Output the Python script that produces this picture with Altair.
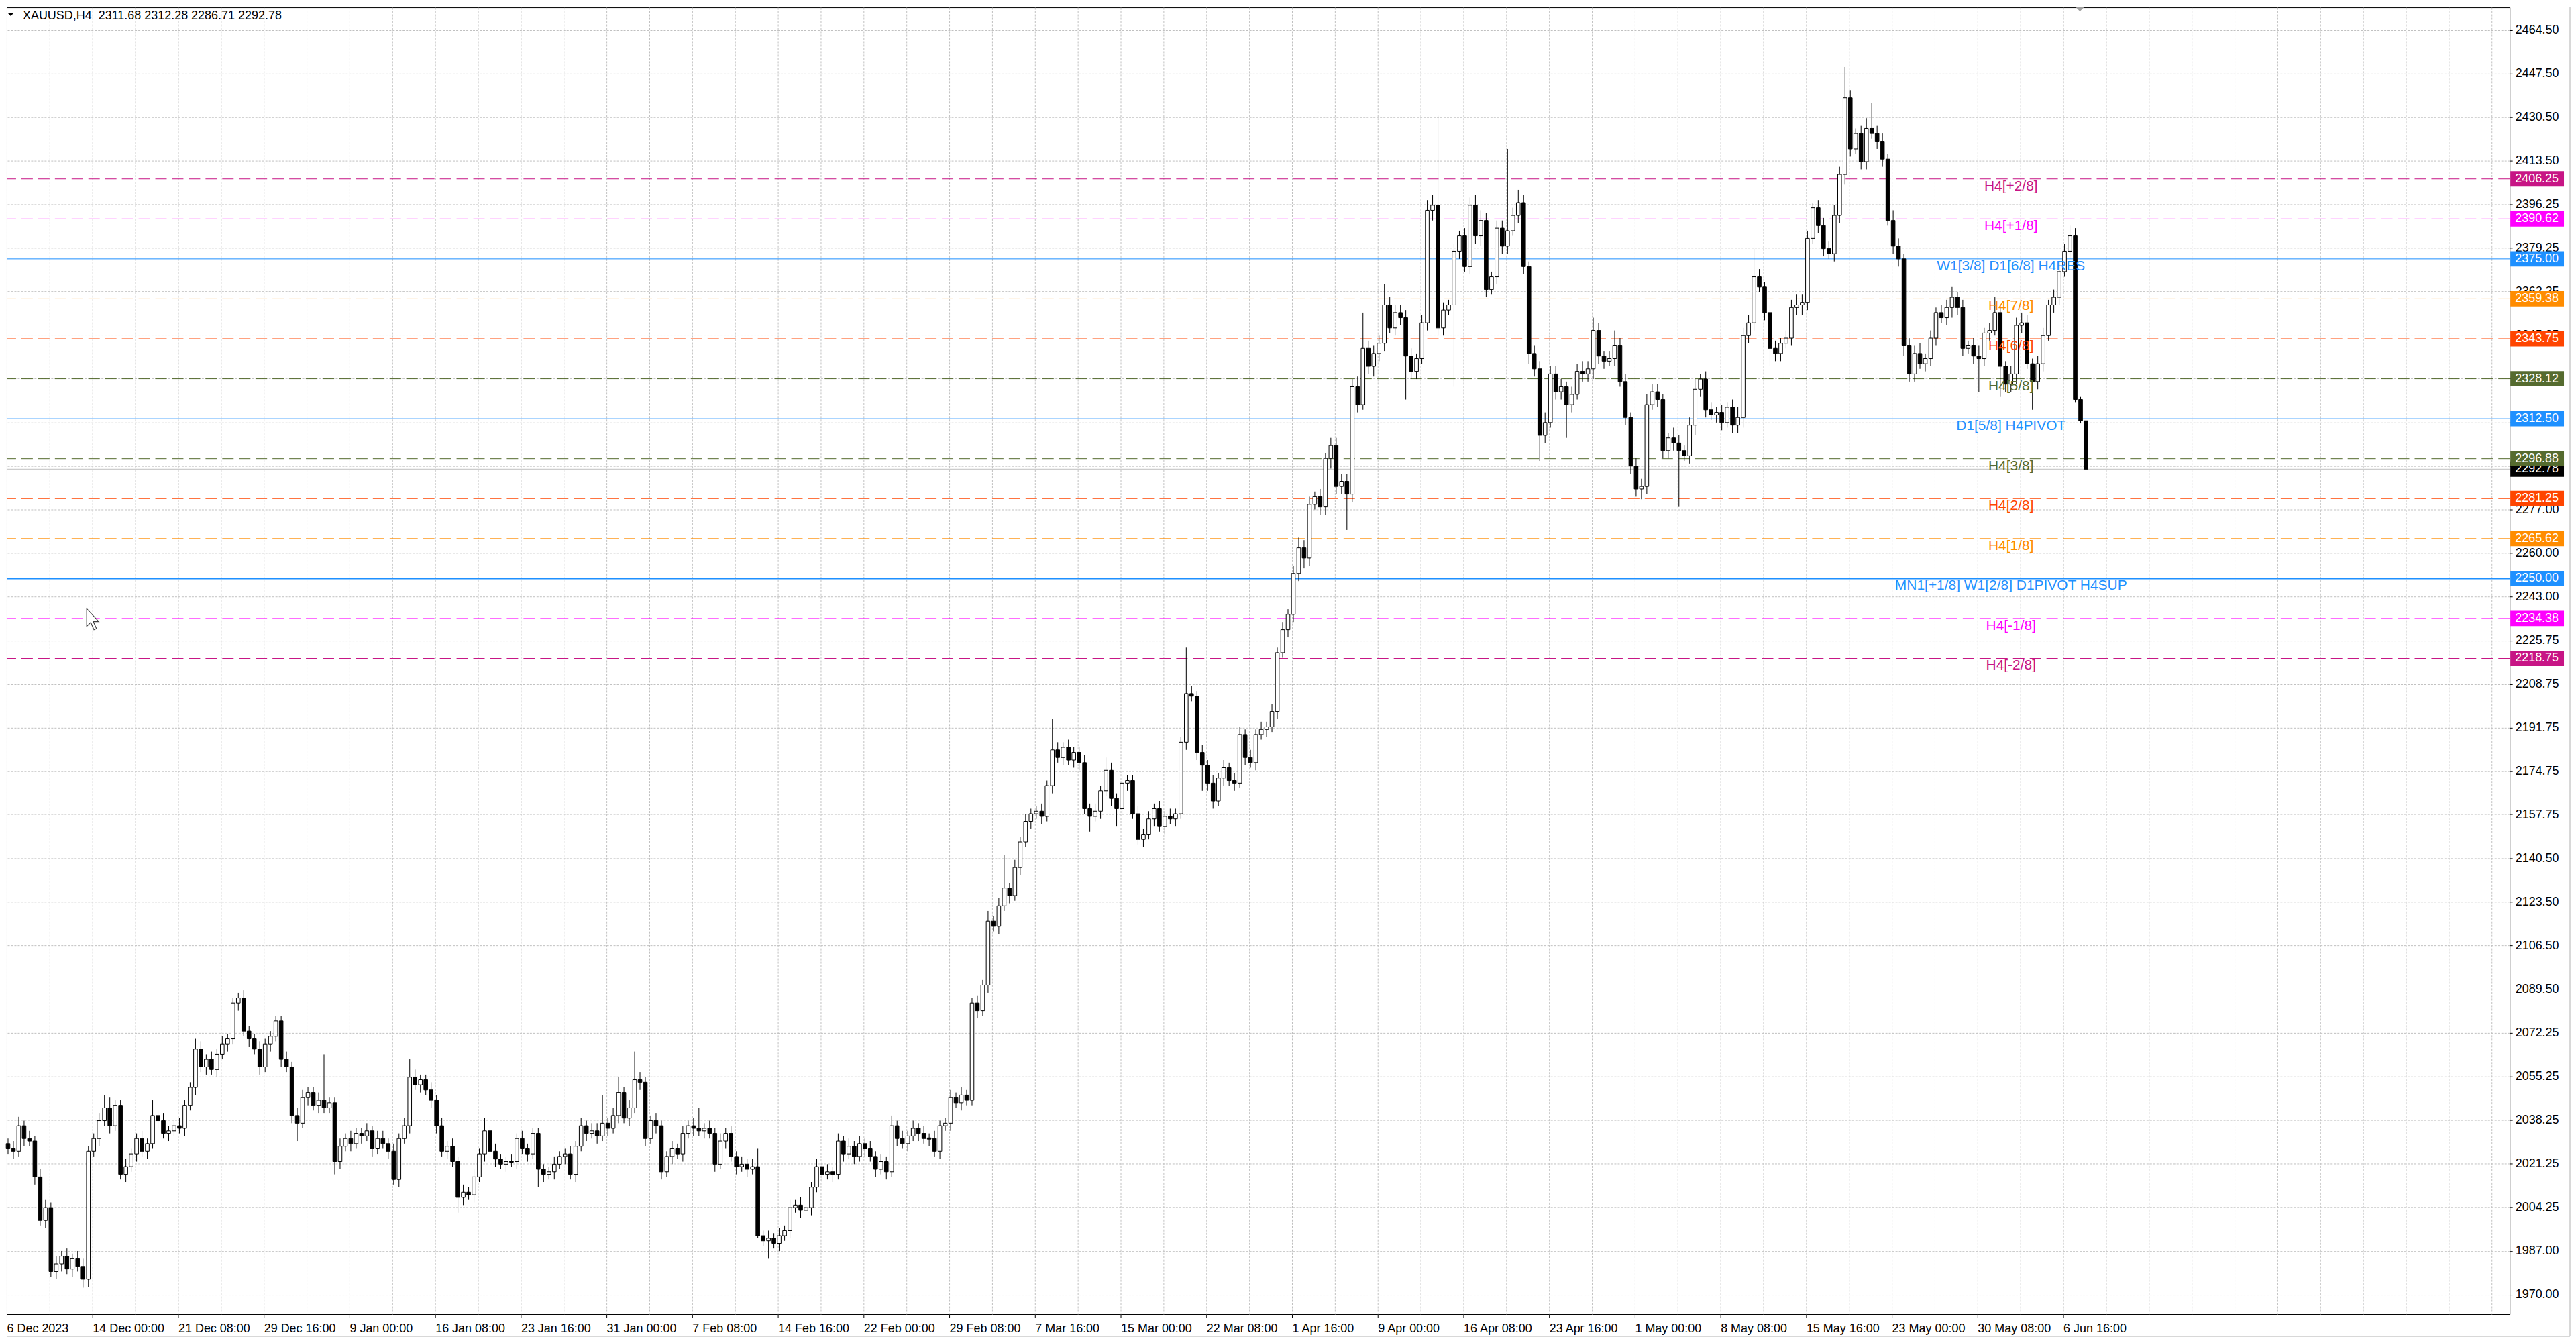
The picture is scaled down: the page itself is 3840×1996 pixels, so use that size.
import altair as alt
import pandas as pd

TITLE_TEXT = "XAUUSD,H4\u00a0 2311.68 2312.28 2286.71 2292.78"

# ---- candles: each candle = 2 H4 bars; open = previous close ----
first_open = 2029.0
closes = [
    2027, 2026, 2036, 2031, 2030, 2016, 1999, 2004, 1979, 1982,
    1985, 1980, 1984, 1981, 1976, 2026, 2031, 2038, 2043, 2036,
    2044, 2017, 2020, 2025, 2031, 2026, 2029, 2040, 2038, 2033,
    2034, 2036, 2035, 2044, 2051, 2066, 2059, 2062, 2058, 2064,
    2068, 2070, 2084, 2086, 2073, 2070, 2066, 2059, 2068, 2071,
    2077, 2062, 2059, 2040, 2037, 2047, 2049, 2044, 2046, 2043,
    2045, 2022, 2028, 2031, 2029, 2033, 2032, 2034, 2027, 2031,
    2029, 2026, 2015, 2031, 2036, 2055, 2052, 2054, 2050, 2046,
    2036, 2026, 2028, 2022, 2008, 2010, 2009, 2016, 2025, 2034,
    2026, 2023, 2021, 2022, 2022, 2031, 2027, 2025, 2033, 2019,
    2017, 2018, 2021, 2024, 2025, 2017, 2028, 2036, 2033, 2034,
    2032, 2037, 2035, 2040, 2049, 2039, 2043, 2054, 2053, 2031,
    2038, 2036, 2018, 2024, 2027, 2025, 2033, 2036, 2035, 2034,
    2035, 2033, 2021, 2030, 2033, 2024, 2020, 2021, 2019, 2020,
    1993, 1991, 1992, 1990, 1993, 1995, 2004, 2005, 2003, 2004,
    2012, 2020, 2017, 2018, 2017, 2030, 2025, 2028, 2024, 2029,
    2027, 2024, 2019, 2022, 2018, 2036, 2031, 2029, 2032, 2035,
    2033, 2031, 2031, 2026, 2036, 2037, 2047, 2045, 2048, 2046,
    2084, 2081, 2091, 2116, 2114, 2122, 2129, 2126, 2137, 2147,
    2155, 2158, 2159, 2157, 2169, 2183, 2180, 2184, 2179, 2182,
    2178, 2160, 2157, 2159, 2167, 2175, 2164, 2160, 2170, 2171,
    2158, 2148, 2150, 2156, 2160, 2153, 2157, 2156, 2158, 2186,
    2205, 2204, 2182, 2177, 2170, 2163, 2172, 2176, 2171, 2170,
    2189, 2180, 2178, 2189, 2191, 2192, 2198, 2221, 2230, 2236,
    2252, 2262, 2258, 2279, 2282, 2278, 2297, 2302, 2286, 2288,
    2283, 2325, 2318, 2340, 2333, 2338, 2342, 2357, 2348, 2354,
    2352, 2337, 2331, 2336, 2350, 2394, 2396, 2348, 2355, 2357,
    2378, 2384, 2372, 2396, 2384, 2390, 2363, 2368, 2387, 2380,
    2386, 2392, 2397, 2372, 2338, 2332, 2306, 2311, 2330, 2323,
    2325, 2318, 2322, 2331, 2330, 2332, 2347, 2337, 2335, 2336,
    2341, 2327, 2313, 2294, 2285, 2286, 2318, 2323, 2320, 2300,
    2305, 2303, 2300, 2298, 2310, 2324, 2328, 2316, 2314, 2315,
    2311, 2317, 2310, 2313, 2345, 2350, 2368, 2364, 2354, 2340,
    2338, 2342, 2344, 2356, 2357, 2358, 2383, 2395, 2388, 2379,
    2377, 2392, 2408, 2438, 2418, 2424, 2413, 2426, 2424, 2421,
    2414, 2390, 2380, 2375, 2341, 2330, 2338, 2334, 2336, 2344,
    2354, 2352, 2356, 2360, 2356, 2340, 2341, 2337, 2336, 2346,
    2347, 2354, 2333, 2326, 2330, 2349, 2350, 2334, 2327, 2334,
    2345, 2357, 2360, 2370, 2378, 2384, 2320, 2311.68, 2292.78,
]
upper_wick = [
    2, 3, 3.5, 2, 3, 2, 3, 3, 2, 3,
    2, 3, 2, 3, 3, 2, 2, 3, 5, 4,
    2, 2, 3, 2, 2, 3, 2, 6, 2, 3,
    2, 2, 3, 2, 2, 4, 3, 2, 3, 2,
    3, 2, 2, 2, 3, 2, 2, 3, 2, 2,
    2, 2, 3, 2, 3, 3, 2, 2, 3, 18,
    2, 2, 3, 2, 3, 2, 2, 3, 2, 3,
    3, 2, 3, 2, 3, 7, 3, 2, 2, 3,
    2, 3, 2, 3, 2, 3, 2, 3, 2, 5,
    2, 3, 2, 2, 3, 2, 3, 2, 2, 2,
    2, 2, 3, 2, 2, 3, 2, 3, 2, 3,
    3, 11, 2, 3, 6, 2, 3, 11, 3, 2,
    2, 3, 2, 2, 3, 2, 3, 2, 3, 8,
    2, 3, 2, 3, 2, 3, 2, 3, 2, 3,
    7, 2, 3, 2, 3, 2, 3, 2, 3, 2,
    2, 3, 2, 3, 2, 3, 2, 3, 2, 3,
    2, 3, 2, 3, 2, 4, 2, 3, 2, 3,
    2, 3, 2, 3, 2, 2, 3, 2, 3, 2,
    2, 3, 2, 4, 2, 3, 13, 2, 3, 2,
    3, 2, 2, 3, 2, 12, 3, 2, 3, 2,
    2, 3, 2, 3, 2, 5, 3, 2, 3, 2,
    2, 3, 2, 3, 2, 3, 2, 3, 2, 2,
    18, 3, 2, 3, 2, 3, 2, 3, 2, 3,
    3, 2, 3, 2, 3, 2, 3, 2, 3, 2,
    3, 4, 3, 3, 2, 3, 2, 3, 3, 3,
    3, 3, 4, 14, 3, 3, 3, 8, 3, 3,
    3, 3, 3, 2, 3, 4, 4, 35, 3, 2,
    3, 2, 3, 3, 4, 4, 3, 2, 3, 3,
    32, 3, 5, 3, 2, 3, 3, 4, 3, 3,
    3, 2, 3, 3, 4, 3, 5, 3, 2, 3,
    6, 3, 3, 2, 3, 3, 4, 3, 3, 2,
    2, 4, 3, 2, 3, 4, 2, 3, 3, 2,
    3, 2, 3, 4, 3, 3, 11, 3, 2, 3,
    3, 2, 3, 3, 4, 3, 3, 2, 3, 3,
    3, 4, 3, 12, 3, 2, 3, 4, 10, 3,
    3, 2, 4, 3, 2, 3, 3, 4, 2, 3,
    2, 3, 3, 4, 2, 3, 2, 3, 4, 2,
    3, 6, 3, 2, 3, 3, 4, 3, 2, 3,
    3, 2, 3, 4, 3, 4, 3, 1, 0.6,
]
lower_wick = [
    2, 3, 2, 3, 2, 3, 2, 3, 2, 3,
    3, 2, 3, 2, 3.3, 3, 2, 3, 2, 3,
    2, 2, 3, 2, 3, 2, 3, 2, 3, 2,
    3, 2, 2, 3, 2, 3, 2, 3, 2, 3,
    2, 3, 2, 3, 2, 3, 2, 3, 2, 3,
    2, 3, 2, 3, 7, 2, 3, 2, 3, 2,
    2, 5, 3, 2, 3, 2, 3, 2, 3, 2,
    2, 3, 2, 3, 2, 3, 2, 3, 2, 3,
    3, 2, 3, 2, 6, 3, 2, 3, 2, 3,
    2, 3, 2, 3, 2, 3, 2, 3, 2, 7,
    3, 2, 3, 2, 3, 2, 3, 2, 3, 2,
    3, 2, 3, 2, 3, 2, 3, 2, 3, 3,
    2, 3, 3, 2, 3, 2, 3, 2, 3, 2,
    3, 2, 3, 2, 3, 2, 3, 2, 3, 2,
    1, 2, 7, 2, 3, 2, 3, 2, 3, 2,
    3, 2, 3, 2, 3, 2, 3, 2, 3, 2,
    3, 2, 3, 2, 3, 2, 3, 2, 3, 2,
    3, 2, 3, 2, 3, 2, 3, 2, 3, 2,
    2, 3, 2, 3, 2, 3, 2, 3, 2, 3,
    2, 3, 2, 3, 2, 3, 2, 3, 2, 3,
    3, 2, 6, 2, 3, 2, 3, 7, 2, 3,
    2, 2, 3, 2, 3, 2, 3, 2, 3, 2,
    3, 2, 3, 10, 3, 3, 2, 3, 2, 3,
    2, 3, 2, 3, 2, 3, 2, 3, 2, 3,
    3, 3, 4, 3, 2, 3, 3, 4, 3, 3,
    14, 3, 3, 2, 3, 4, 3, 3, 2, 3,
    3, 17, 3, 3, 2, 3, 4, 3, 3, 2,
    32, 3, 2, 3, 3, 4, 3, 2, 3, 3,
    3, 2, 3, 3, 4, 3, 10, 3, 2, 3,
    3, 13, 3, 2, 3, 3, 4, 3, 3, 2,
    3, 2, 3, 3, 3, 4, 3, 2, 3, 3,
    3, 3, 22, 2, 3, 4, 3, 3, 2, 3,
    3, 2, 3, 3, 4, 3, 3, 2, 3, 7,
    3, 3, 2, 3, 3, 4, 3, 2, 3, 3,
    2, 3, 3, 4, 3, 2, 3, 3, 2, 3,
    3, 2, 3, 3, 4, 3, 3, 2, 3, 3,
    3, 2, 3, 4, 3, 3, 2, 3, 13, 3,
    3, 2, 12, 3, 3, 4, 3, 2, 11, 3,
    3, 2, 3, 3, 2, 3, 1, 1, 6.07,
]

time_labels = ["6 Dec 2023", "14 Dec 00:00", "21 Dec 08:00", "29 Dec 16:00", "9 Jan 00:00",
               "16 Jan 08:00", "23 Jan 16:00", "31 Jan 00:00", "7 Feb 08:00", "14 Feb 16:00",
               "22 Feb 00:00", "29 Feb 08:00", "7 Mar 16:00", "15 Mar 00:00", "22 Mar 08:00",
               "1 Apr 16:00", "9 Apr 00:00", "16 Apr 08:00", "23 Apr 16:00", "1 May 00:00",
               "8 May 08:00", "15 May 16:00", "23 May 00:00", "30 May 08:00", "6 Jun 16:00"]
price_ticks = [2464.50, 2447.50, 2430.50, 2413.50, 2396.25, 2379.25, 2362.25, 2345.25, 2328.25,
               2311.00, 2294.00, 2277.00, 2260.00, 2243.00, 2225.75, 2208.75, 2191.75, 2174.75,
               2157.75, 2140.50, 2123.50, 2106.50, 2089.50, 2072.25, 2055.25, 2038.25, 2021.25,
               2004.25, 1987.00, 1970.00]

level_prices = [2406.25, 2390.62, 2375.00, 2359.38, 2343.75, 2328.12, 2312.50, 2296.88,
                2281.25, 2265.62, 2250.00, 2234.38, 2218.75]
level_names = ["H4[+2/8]", "H4[+1/8]", "W1[3/8] D1[6/8] H4RES", "H4[7/8]", "H4[6/8]", "H4[5/8]",
               "D1[5/8] H4PIVOT", "H4[3/8]", "H4[2/8]", "H4[1/8]",
               "MN1[+1/8] W1[2/8] D1PIVOT H4SUP", "H4[-1/8]", "H4[-2/8]"]
level_colors = ["#C71585", "#FF00FF", "#1E90FF", "#FF8C00", "#FF4500", "#556B2F", "#1E90FF",
                "#556B2F", "#FF4500", "#FF8C00", "#1E90FF", "#FF00FF", "#C71585"]
level_solid = [False, False, True, False, False, False, True, False, False, False, True, False, False]
level_width = [1, 1, 1, 1, 1, 1, 1, 1, 1, 1, 2, 1, 1]
last_price = 2292.78

W, H = 3739, 1952
FONT = "Liberation Sans"

# ---- build tables ----
rows = []
prev = first_open
for j, c in enumerate(closes):
    o = prev
    hi = max(o, c) + upper_wick[j]
    lo = min(o, c) - lower_wick[j]
    top, bot = max(o, c), min(o, c)
    if top - bot < 0.4:
        top, bot = o + 0.25, o - 0.25
    t = 2 * j + 0.5
    rows.append(dict(t=t, t0=t - 0.7, t1=t + 0.7, high=hi, low=lo, btop=top, bbot=bot,
                     fill="white" if c > o else "black"))
    prev = c
cdf = pd.DataFrame(rows)

ldf = pd.DataFrame(dict(price=level_prices, name=level_names, color=level_colors,
                        solid=level_solid, lw=level_width))
ldf["txt"] = ldf["price"].map(lambda v: f"{v:.2f}")
ldf["top"] = ldf["price"] + 3.0
ldf["bot"] = ldf["price"] - 3.0
cur = pd.DataFrame(dict(price=[last_price], txt=[f"{last_price:.2f}"],
                        top=[last_price + 3.0], bot=[last_price - 3.0]))

xscale = alt.Scale(domain=[0, W / 4], nice=False, zero=False)
yscale = alt.Scale(domain=[1962.33, 2473.32], nice=False, zero=False)

arr = "[" + ",".join(f"'{s}'" for s in time_labels) + "]"
cond = "datum.value % 32 == 0 && datum.value <= 768"
xaxis = alt.Axis(values=list(range(0, 935, 16)), labelExpr=f"{cond} ? {arr}[datum.value/32] : ''",
                 grid=True, gridColor="#C0C0C0", gridDash=[3, 2], gridWidth=1, domain=False,
                 tickColor={"condition": {"test": cond, "value": "black"}, "value": "transparent"},
                 tickSize=5, labelAlign="left", labelBaseline="top", labelPadding=8,
                 labelFont=FONT, labelFontSize=18, labelColor="black", title=None,
                 labelOverlap=False, labelFlush=False)
yaxis = alt.Axis(orient="right", values=price_ticks, format=".2f", grid=True, gridColor="#C0C0C0",
                 gridDash=[3, 2], gridWidth=1, domain=False, tickColor="black", tickSize=4,
                 labelPadding=4, labelFont=FONT, labelFontSize=18, labelColor="black",
                 labelBaseline="middle", title=None, labelOverlap=False, labelFlush=False)

Y = lambda f: alt.Y(f, scale=yscale, axis=yaxis)

dashed = alt.Chart(ldf[~ldf.solid]).mark_rule(strokeDash=[17, 8], strokeWidth=1).encode(
    y=Y("price:Q"), color=alt.Color("color:N", scale=None))
solid = alt.Chart(ldf[ldf.solid]).mark_rule().encode(
    y=Y("price:Q"), color=alt.Color("color:N", scale=None),
    strokeWidth=alt.StrokeWidth("lw:Q", scale=None))
curline = alt.Chart(cur).mark_rule(color="#C0C0C0", strokeWidth=1).encode(y=Y("price:Q"))

wick = alt.Chart(cdf).mark_rule(color="black", strokeWidth=1).encode(
    x=alt.X("t:Q", scale=xscale, axis=xaxis), y=Y("low:Q"), y2="high:Q")
body = alt.Chart(cdf).mark_rect(stroke="black", strokeWidth=1).encode(
    x=alt.X("t0:Q", scale=xscale, axis=xaxis), x2="t1:Q", y=Y("btop:Q"), y2="bbot:Q",
    fill=alt.Color("fill:N", scale=None))

ltext = alt.Chart(ldf).mark_text(align="center", baseline="top", dy=0, font=FONT, fontSize=21).encode(
    x=alt.value(2994), y=Y("price:Q"), text="name:N", color=alt.Color("color:N", scale=None))

cur_rect = alt.Chart(cur).mark_rect(color="black").encode(
    x=alt.value(W + 1), x2=alt.value(W + 81), y=Y("top:Q"), y2="bot:Q")
cur_txt = alt.Chart(cur).mark_text(align="left", baseline="middle", font=FONT, fontSize=18,
                                   color="white").encode(x=alt.value(W + 8), y=Y("price:Q"), text="txt:N")
tag_rect = alt.Chart(ldf).mark_rect().encode(
    x=alt.value(W + 1), x2=alt.value(W + 81), y=Y("top:Q"), y2="bot:Q",
    fill=alt.Color("color:N", scale=None))
tag_txt = alt.Chart(ldf).mark_text(align="left", baseline="middle", font=FONT, fontSize=18,
                                   color="white").encode(x=alt.value(W + 8), y=Y("price:Q"), text="txt:N")

one = pd.DataFrame({"k": [0]})
title = alt.Chart(one).mark_text(align="left", baseline="alphabetic", font=FONT, fontSize=18,
                                 color="black").encode(x=alt.value(24), y=alt.value(18),
                                                       text=alt.value(TITLE_TEXT))
tri = alt.Chart(one).mark_point(shape="M-1,-0.5L1,-0.5L0,0.5Z", filled=True, color="black",
                                size=100, opacity=1).encode(x=alt.value(6), y=alt.value(10.5))
shift = alt.Chart(one).mark_point(shape="M-1,-0.5L1,-0.5L0,0.5Z", filled=True, color="#A0A0A0",
                                  size=144, opacity=1).encode(x=alt.value(3097), y=alt.value(3))
cursor = alt.Chart(one).mark_point(
    shape="M-0.62,-1L-0.62,0.56L-0.26,0.22L0.02,0.86L0.24,0.76L-0.04,0.14L0.44,0.14Z",
    filled=True, fill="white", stroke="#404040", strokeWidth=1.2, size=1156, opacity=1).encode(
    x=alt.value(130), y=alt.value(915))
frame_r = alt.Chart(one).mark_rule(color="#D8D8D8", strokeWidth=2).encode(
    x=alt.value(W + 90), y=alt.value(0), y2=alt.value(H + 33))
frame_b = alt.Chart(one).mark_rule(color="#D8D8D8", strokeWidth=2).encode(
    x=alt.value(0), x2=alt.value(W + 90), y=alt.value(H + 33))

chart = alt.layer(dashed, solid, curline, wick, body, ltext, cur_rect, cur_txt, tag_rect, tag_txt,
                  title, tri, shift, cursor, frame_r, frame_b).properties(
    width=W, height=H, background="white", padding=0
).configure_view(stroke="black", strokeWidth=1)

chart.save("out.html", embed_options={"renderer": "svg", "actions": False})
